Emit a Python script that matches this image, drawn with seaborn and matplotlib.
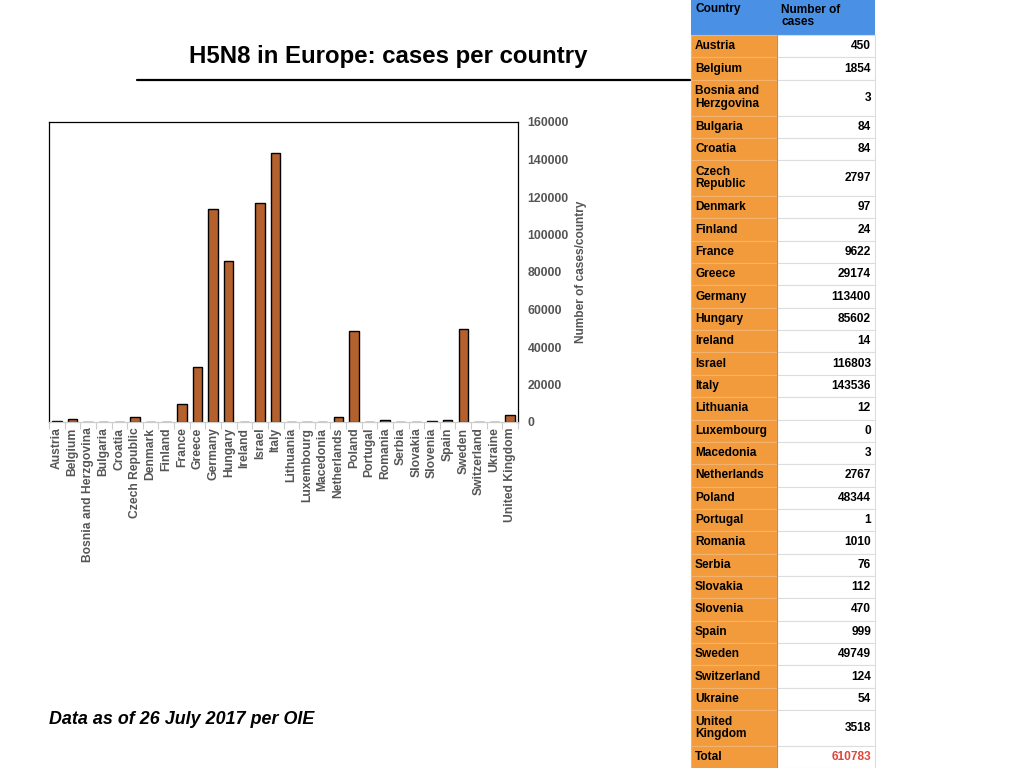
import textwrap
import numpy as np
import pandas as pd
import matplotlib
matplotlib.use("Agg")
import matplotlib.pyplot as plt
from matplotlib.patches import Rectangle
import seaborn as sns

# data (OIE, 26 July 2017)
countries = ["Austria", "Belgium", "Bosnia and Herzgovina", "Bulgaria", "Croatia",
             "Czech Republic", "Denmark", "Finland", "France", "Greece", "Germany",
             "Hungary", "Ireland", "Israel", "Italy", "Lithuania", "Luxembourg",
             "Macedonia", "Netherlands", "Poland", "Portugal", "Romania", "Serbia",
             "Slovakia", "Slovenia", "Spain", "Sweden", "Switzerland", "Ukraine",
             "United Kingdom"]
cases = [450, 1854, 3, 84, 84, 2797, 97, 24, 9622, 29174, 113400, 85602, 14,
         116803, 143536, 12, 0, 3, 2767, 48344, 1, 1010, 76, 112, 470, 999,
         49749, 124, 54, 3518]
total_cases = 610783
y_ticks = [0, 20000, 40000, 60000, 80000, 100000, 120000, 140000, 160000]

df = pd.DataFrame({"country": countries, "cases": cases})

sns.set_theme(style="white")
plt.rcParams["font.family"] = ["Liberation Sans", "DejaVu Sans"]

bar_col = "#b5612d"
orange = "#f29b3c"
blue = "#4a91e6"
grey_txt = "#555555"

fig = plt.figure(figsize=(10.24, 7.68), dpi=100)

# ---- bar chart
ax = fig.add_axes([49 / 1024, (768 - 422) / 768, 469 / 1024, 300 / 768])
sns.barplot(data=df, x="country", y="cases", color=bar_col, saturation=1,
            edgecolor="black", linewidth=1, width=0.6, ax=ax)
ax.set_ylim(0, 160000)
ax.set_xlim(-0.5, len(countries) - 0.5)
ax.yaxis.tick_right()
ax.yaxis.set_label_position("right")
ax.set_yticks(y_ticks)
ax.set_yticklabels([str(t) for t in y_ticks], fontsize=8.8, fontweight="bold",
                   color=grey_txt)
ax.tick_params(axis="y", length=0, pad=7)
ax.set_ylabel("Number of cases/country", fontsize=8.6, fontweight="bold",
              color=grey_txt, labelpad=4)
ax.set_xlabel("")
ax.set_xticks(range(len(countries)))
ax.set_xticklabels(countries, rotation=90, fontsize=8.7, fontweight="bold",
                   color=grey_txt)
ax.tick_params(axis="x", length=0, pad=4)
ax.set_xticks(np.arange(-0.5, len(countries), 1), minor=True)
ax.tick_params(axis="x", which="minor", length=5, color="#cccccc", width=0.8,
               bottom=True)
for s in ["top", "left", "right"]:
    ax.spines[s].set_color("black")
    ax.spines[s].set_linewidth(0.9)
ax.spines["bottom"].set_color("#cccccc")
ax.spines["bottom"].set_linewidth(0.9)

# ---- titles
fig.text(388 / 1024, 1 - 56 / 768, "H5N8 in Europe: cases per country",
         fontsize=17.3, fontweight="bold", ha="center", va="center", color="black")
fig.add_artist(plt.Line2D([137 / 1024, 690 / 1024], [1 - 80 / 768, 1 - 80 / 768],
                          color="black", linewidth=1.6))
fig.text(49 / 1024, 1 - 720 / 768, "Data as of 26 July 2017 per OIE",
         fontsize=12.9, fontweight="bold", style="italic", ha="left",
         va="center", color="black")

# ---- table
tab = fig.add_axes([0, 0, 1, 1])
tab.set_xlim(0, 1024)
tab.set_ylim(768, 0)
tab.axis("off")
tab.patch.set_alpha(0)

x0, x1, x2 = 691, 777, 875
head_h = 35
single_h = 22.35
double_h = 35.8

tab.add_patch(Rectangle((x0, 0), x2 - x0, head_h, facecolor=blue, edgecolor="none"))
tab.text(x0 + 4, 9, "Country", fontsize=8.6, fontweight="bold", va="center",
         ha="left", color="black")
tab.text(x1 + 4, 16, "Number of\ncases", fontsize=8.6, fontweight="bold",
         va="center", ha="left", color="black", linespacing=1.05)

rows = [(textwrap.fill(c, 10, break_long_words=False), str(v), "black")
        for c, v in zip(countries, cases)]
rows.append(("Total", str(total_cases), "#e0453a"))

y = head_h
for name, val, vcol in rows:
    h = double_h if "\n" in name else single_h
    tab.add_patch(Rectangle((x0, y), x1 - x0, h, facecolor=orange,
                            edgecolor="#f5b26c", linewidth=0.8))
    tab.add_patch(Rectangle((x1, y), x2 - x1, h, facecolor="white",
                            edgecolor="#dddddd", linewidth=0.8))
    tab.text(x0 + 4, y + h / 2, name, fontsize=8.6, fontweight="bold",
             va="center", ha="left", color="black", linespacing=1.05)
    tab.text(x2 - 4, y + h / 2, val, fontsize=8.6, fontweight="bold",
             va="center", ha="right", color=vcol)
    y += h
tab.plot([x1, x1], [head_h, 768], color="#c98a45", linewidth=0.8)

fig.savefig("out.png", dpi=100)
